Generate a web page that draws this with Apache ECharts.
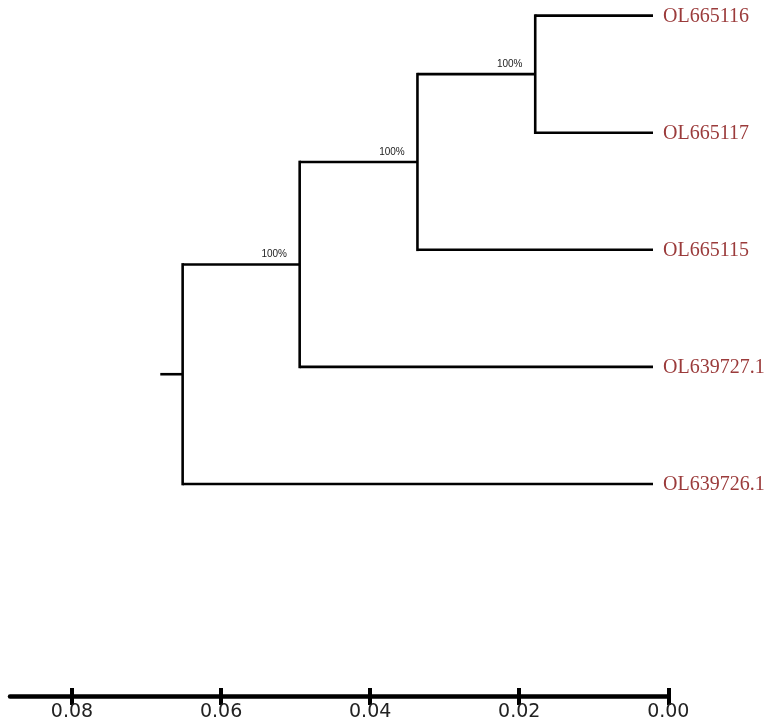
<!DOCTYPE html>
<html>
<head>
<meta charset="utf-8">
<script src="https://cdn.jsdelivr.net/npm/echarts@6/dist/echarts.min.js"></script>
<style>html,body{margin:0;padding:0;background:#fff}#c{width:764px;height:723px}</style>
</head>
<body>
<div id="c"></div>
<script>
// ---- data ----
const tipNames = ['OL665116', 'OL665117', 'OL665115', 'OL639727.1', 'OL639726.1'];
// internal nodes: heights (distance from tips), children, bootstrap support
const nodeIds = ['n0', 'n1', 'n2', 'root'];
const nodeHeights = [0.0158, 0.0316, 0.0474, 0.0631];
const nodeChildren = [['t0', 't1'], ['n0', 't2'], ['n1', 't3'], ['n2', 't4']];
const nodeSupport = ['100%', '100%', '100%', ''];
const rootStub = 0.0661;
const scaleTicks = [0, 0.02, 0.04, 0.06, 0.08];

// ---- build tree geometry (in data units) ----
const pos = {};
tipNames.forEach((n, i) => { pos['t' + i] = { h: 0, y: i }; });
nodeIds.forEach((id, k) => {
  const ys = nodeChildren[k].map(c => pos[c].y);
  pos[id] = { h: nodeHeights[k], y: (Math.min(...ys) + Math.max(...ys)) / 2 };
});
const hSegs = [], vSegs = [];
nodeIds.forEach((id, k) => {
  const p = pos[id];
  const ys = nodeChildren[k].map(c => pos[c].y);
  vSegs.push([p.h, Math.min(...ys), p.h, Math.max(...ys)]);
  nodeChildren[k].forEach(c => hSegs.push([p.h, pos[c].y, pos[c].h, pos[c].y]));
});
const rp = pos['root'];
hSegs.push([rootStub, rp.y, rp.h, rp.y]);
const supportData = nodeIds.map((id, k) => [pos[id].h, pos[id].y, nodeSupport[k]]).filter(d => d[2]);
const tipData = tipNames.map((n, i) => [0, i, n]);

function segRender(cap) {
  return function (params, api) {
    const a = api.coord([api.value(0), api.value(1)]);
    const b = api.coord([api.value(2), api.value(3)]);
    return { type: 'line', shape: { x1: a[0], y1: a[1], x2: b[0], y2: b[1] },
      style: { stroke: '#000', lineWidth: 2.6, lineCap: cap } };
  };
}

const chart = echarts.init(document.getElementById('c'), null, { renderer: 'canvas' });
chart.setOption({
  animation: false,
  backgroundColor: '#fff',
  grid: [
    { left: 10, right: 111, top: 15.6, height: 468.4 },
    { left: 10, right: 95.7, top: 600, bottom: 27 }
  ],
  xAxis: [
    { gridIndex: 0, type: 'value', inverse: true, min: 0, max: 0.08626, show: false },
    { gridIndex: 1, type: 'value', inverse: true, min: 0, max: 0.08832, interval: 0.02, position: 'bottom',
      axisLine: { show: true, lineStyle: { color: '#000', width: 4.5 } },
      axisTick: { show: true, inside: false, length: 9, lineStyle: { color: '#000', width: 4 }, customValues: scaleTicks },
      axisLabel: { show: true, margin: 7, fontSize: 19, fontFamily: 'DejaVu Sans', color: '#222',
        customValues: scaleTicks, formatter: v => v.toFixed(2) },
      splitLine: { show: false } },
    { gridIndex: 1, type: 'value', inverse: true, min: 0, max: 0.08832, interval: 0.02, position: 'bottom',
      axisLine: { show: false },
      axisTick: { show: true, inside: true, length: 8, lineStyle: { color: '#000', width: 4 }, customValues: scaleTicks },
      axisLabel: { show: false }, splitLine: { show: false } }
  ],
  yAxis: [
    { gridIndex: 0, type: 'value', inverse: true, min: 0, max: 4, show: false },
    { gridIndex: 1, type: 'value', min: 0, max: 1, show: false }
  ],
  series: [
    { type: 'custom', xAxisIndex: 0, yAxisIndex: 0, data: hSegs, renderItem: segRender('butt'),
      encode: { x: [0, 2], y: [1, 3] }, silent: true },
    { type: 'custom', xAxisIndex: 0, yAxisIndex: 0, data: vSegs, renderItem: segRender('square'),
      encode: { x: [0, 2], y: [1, 3] }, silent: true },
    { type: 'custom', xAxisIndex: 0, yAxisIndex: 0, data: tipData, encode: { x: 0, y: 1 }, silent: true,
      renderItem: function (params, api) {
        const p = api.coord([api.value(0), api.value(1)]);
        return { type: 'text', x: p[0] + 10, y: p[1] + 1,
          style: { text: tipData[params.dataIndex][2], fill: '#9b3b3b', font: '20px "Liberation Serif"',
            textAlign: 'left', textVerticalAlign: 'middle' } };
      } },
    { type: 'custom', xAxisIndex: 0, yAxisIndex: 0, data: supportData, encode: { x: 0, y: 1 }, silent: true,
      renderItem: function (params, api) {
        const p = api.coord([api.value(0), api.value(1)]);
        return { type: 'text', x: p[0] - 25.5, y: p[1] - 10,
          style: { text: supportData[params.dataIndex][2], fill: '#222', font: '10px "Liberation Sans"',
            textAlign: 'center', textVerticalAlign: 'middle' } };
      } }
  ]
});
</script>
</body>
</html>
